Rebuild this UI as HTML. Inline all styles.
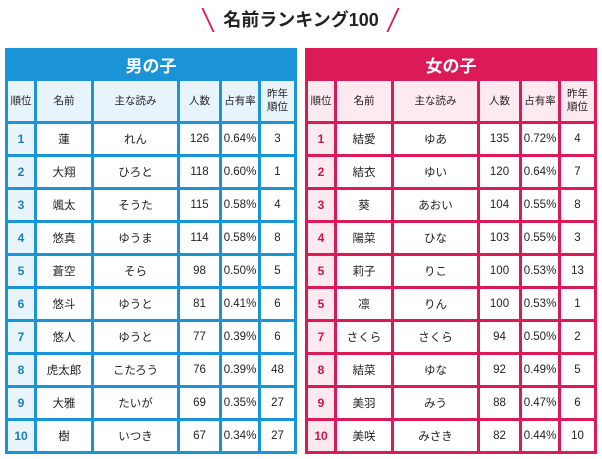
<!DOCTYPE html>
<html><head><meta charset="utf-8"><style>
body{margin:0;width:602px;height:459px;background:#fff;position:relative;overflow:hidden;font-family:"Liberation Sans","Noto Sans CJK JP",sans-serif;}
.title{position:absolute;left:0;width:602px;top:8px;text-align:center;font-size:18px;font-weight:bold;color:#222;line-height:24px;}
.sl{position:absolute;top:8px;width:2px;height:24px;background:#d81b5a;}
table{position:absolute;top:48px;border-collapse:collapse;table-layout:fixed;width:290px;font-size:11.5px;color:#222;}
td,th{text-align:center;padding:0;}
.b td,.b th{border:3px solid #1a94d6;}
.g td,.g th{border:3px solid #dd1a58;}
th.band{height:27px;color:#fff;font-size:17px;font-weight:bold;}
.b th.band{background:#1a94d6;}.g th.band{background:#dd1a58;}
tr.h td{height:40px;font-size:10.5px;line-height:13px;}
.b tr.h td{background:#e8f4fb;}.g tr.h td{background:#fdeaf0;}
tr.r td{height:30px;}
td.n{font-weight:bold;font-size:12px;}
.b td.n{background:#e8f4fb;color:#1a7fb8;}.g td.n{background:#fdeaf0;color:#c8144e;}
</style></head><body>
<div class="sl" style="left:207px;transform:skewX(25deg)"></div>
<div class="title">名前ランキング100</div>
<div class="sl" style="left:392px;transform:skewX(-25deg)"></div>

<table class="b" style="left:5px">
<colgroup><col style="width:29px"><col style="width:57px"><col style="width:86px"><col style="width:42px"><col style="width:39px"><col style="width:36px"></colgroup>
<tr><th class="band" colspan="6">男の子</th></tr>
<tr class="h"><td>順位</td><td>名前</td><td>主な読み</td><td>人数</td><td>占有率</td><td>昨年<br>順位</td></tr>
<tr class="r"><td class="n">1</td><td>蓮</td><td>れん</td><td>126</td><td>0.64%</td><td>3</td></tr>
<tr class="r"><td class="n">2</td><td>大翔</td><td>ひろと</td><td>118</td><td>0.60%</td><td>1</td></tr>
<tr class="r"><td class="n">3</td><td>颯太</td><td>そうた</td><td>115</td><td>0.58%</td><td>4</td></tr>
<tr class="r"><td class="n">4</td><td>悠真</td><td>ゆうま</td><td>114</td><td>0.58%</td><td>8</td></tr>
<tr class="r"><td class="n">5</td><td>蒼空</td><td>そら</td><td>98</td><td>0.50%</td><td>5</td></tr>
<tr class="r"><td class="n">6</td><td>悠斗</td><td>ゆうと</td><td>81</td><td>0.41%</td><td>6</td></tr>
<tr class="r"><td class="n">7</td><td>悠人</td><td>ゆうと</td><td>77</td><td>0.39%</td><td>6</td></tr>
<tr class="r"><td class="n">8</td><td>虎太郎</td><td>こたろう</td><td>76</td><td>0.39%</td><td>48</td></tr>
<tr class="r"><td class="n">9</td><td>大雅</td><td>たいが</td><td>69</td><td>0.35%</td><td>27</td></tr>
<tr class="r"><td class="n">10</td><td>樹</td><td>いつき</td><td>67</td><td>0.34%</td><td>27</td></tr>
</table>

<table class="g" style="left:305px">
<colgroup><col style="width:29px"><col style="width:57px"><col style="width:86px"><col style="width:42px"><col style="width:39px"><col style="width:36px"></colgroup>
<tr><th class="band" colspan="6">女の子</th></tr>
<tr class="h"><td>順位</td><td>名前</td><td>主な読み</td><td>人数</td><td>占有率</td><td>昨年<br>順位</td></tr>
<tr class="r"><td class="n">1</td><td>結愛</td><td>ゆあ</td><td>135</td><td>0.72%</td><td>4</td></tr>
<tr class="r"><td class="n">2</td><td>結衣</td><td>ゆい</td><td>120</td><td>0.64%</td><td>7</td></tr>
<tr class="r"><td class="n">3</td><td>葵</td><td>あおい</td><td>104</td><td>0.55%</td><td>8</td></tr>
<tr class="r"><td class="n">4</td><td>陽菜</td><td>ひな</td><td>103</td><td>0.55%</td><td>3</td></tr>
<tr class="r"><td class="n">5</td><td>莉子</td><td>りこ</td><td>100</td><td>0.53%</td><td>13</td></tr>
<tr class="r"><td class="n">5</td><td>凛</td><td>りん</td><td>100</td><td>0.53%</td><td>1</td></tr>
<tr class="r"><td class="n">7</td><td>さくら</td><td>さくら</td><td>94</td><td>0.50%</td><td>2</td></tr>
<tr class="r"><td class="n">8</td><td>結菜</td><td>ゆな</td><td>92</td><td>0.49%</td><td>5</td></tr>
<tr class="r"><td class="n">9</td><td>美羽</td><td>みう</td><td>88</td><td>0.47%</td><td>6</td></tr>
<tr class="r"><td class="n">10</td><td>美咲</td><td>みさき</td><td>82</td><td>0.44%</td><td>10</td></tr>
</table>
</body></html>
